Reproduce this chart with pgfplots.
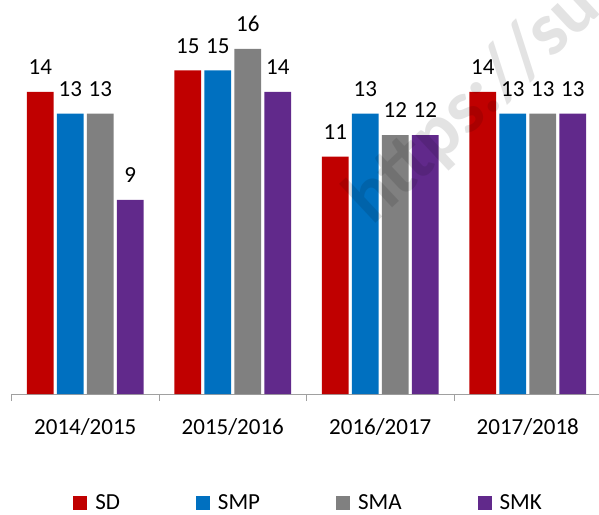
\documentclass[border=0pt]{standalone}
\usepackage{pgfplots}
\pgfplotsset{compat=1.18}
\usepackage{fontspec}
\setmainfont{Carlito}
\definecolor{cSD}{HTML}{C00000}
\definecolor{cSMP}{HTML}{0070C0}
\definecolor{cSMA}{HTML}{808080}
\definecolor{cSMK}{HTML}{61298B}
\definecolor{axgray}{HTML}{A0A0A0}
\begin{document}
\begin{tikzpicture}
\begin{axis}[
  at={(11.5pt,120pt)}, anchor=south west,
  scale only axis,
  width=590pt, height=388.3pt,
  xmin=-0.5, xmax=3.5, ymin=0, ymax=18,
  ybar=3.3pt, bar width=26.7pt,
  axis x line*=bottom, axis y line=none,
  axis line style={axgray, line width=1pt},
  xtick={0,1,2,3},
  xticklabels={2014/2015,2015/2016,2016/2017,2017/2018},
  minor xtick={-0.5,0.5,1.5,2.5,3.5},
  major tick length=0pt, minor tick length=7pt,
  tick align=outside,
  minor tick style={axgray, line width=1pt},
  xticklabel style={anchor=base, yshift=-40.7pt, inner sep=0pt},
  tick label style={font=\fontsize{23}{27}\selectfont},
  /pgf/number format/assume math mode=true,
  nodes near coords={\pgfmathprintnumber[assume math mode=true]{\pgfplotspointmeta}},
  every node near coord/.append style={anchor=base, yshift=17.4pt, inner sep=0pt, font=\fontsize{23}{27}\selectfont, text=black},
  clip=false,
  legend columns=4,
  legend image code/.code={\fill[#1] (0pt,-7pt) rectangle (14pt,7pt);},
  legend style={draw=none, at={(axis description cs:0.1047,-0.2805)}, anchor=west, inner sep=0pt, outer sep=0pt,
    font=\fontsize{23}{27}\selectfont,
    nodes={inner sep=0pt},
    /tikz/every odd column/.append style={column sep=8pt},
    /tikz/every even column/.append style={column sep=76pt}},
]
\addplot[fill=cSD, draw=none] coordinates {(0,14) (1,15) (2,11) (3,14)};
\addplot[fill=cSMP, draw=none] coordinates {(0,13) (1,15) (2,13) (3,13)};
\addplot[fill=cSMA, draw=none] coordinates {(0,13) (1,16) (2,12) (3,13)};
\addplot[fill=cSMK, draw=none] coordinates {(0,9) (1,14) (2,12) (3,13)};
\legend{SD,SMP,SMA,SMK}
\end{axis}
\node[rotate=43, anchor=base west, text=black, opacity=0.11, font=\bfseries\fontsize{76}{80}\selectfont, inner sep=0pt] at (372pt,287pt) {https://su};
\pgfresetboundingbox
\path[use as bounding box] (0,0) rectangle (599pt,514pt);
\end{tikzpicture}
\end{document}
